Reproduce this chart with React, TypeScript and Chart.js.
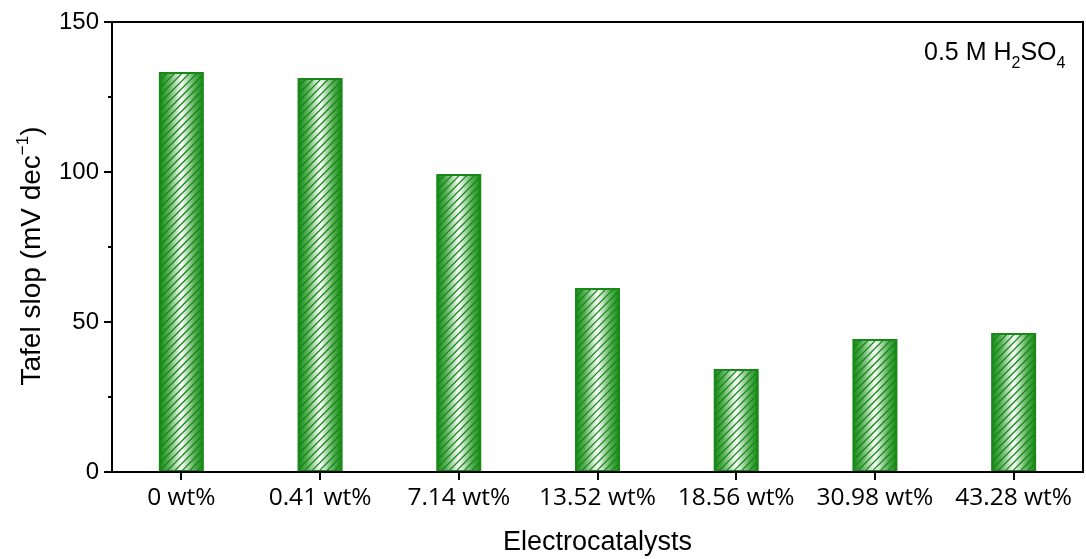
import React, { useEffect, useRef } from "react";
import { Chart, registerables } from "chart.js";

Chart.register(...registerables);

const categories = ["0 wt%", "0.41 wt%", "7.14 wt%", "13.52 wt%", "18.56 wt%", "30.98 wt%", "43.28 wt%"];
const tafelSlopes = [133, 131, 99, 61, 34, 44, 46];
const yMin = 0;
const yMax = 150;
const yMajorStep = 50;
const yMinorTicks = [25, 75, 125];
const yTitleMain = "Tafel slop (mV dec";
const yTitleSup = "\u22121";
const yTitleEnd = ")";
const xTitle = "Electrocatalysts";

const GREEN = "rgb(25,135,25)";
const SANS = "'Liberation Sans', Arial, sans-serif";

const hatchBarsPlugin = {
  id: "hatchBars",
  afterDatasetsDraw(chart: any) {
    const ctx = chart.ctx as CanvasRenderingContext2D;
    const meta = chart.getDatasetMeta(0);
    meta.data.forEach((el: any) => {
      const p = el.getProps(["x", "y", "base", "width"], true);
      const left = p.x - p.width / 2;
      const right = p.x + p.width / 2;
      const top = Math.min(p.y, p.base);
      const bottom = Math.max(p.y, p.base);
      const h = bottom - top;
      ctx.save();
      const g = ctx.createLinearGradient(left, 0, right, 0);
      g.addColorStop(0, "rgb(20,140,20)");
      g.addColorStop(0.2, "rgb(90,175,90)");
      g.addColorStop(0.5, "rgb(255,255,255)");
      g.addColorStop(0.8, "rgb(90,175,90)");
      g.addColorStop(1, "rgb(20,140,20)");
      ctx.fillStyle = g;
      ctx.fillRect(left, top, p.width, h);
      ctx.beginPath();
      ctx.rect(left, top, p.width, h);
      ctx.clip();
      ctx.strokeStyle = "rgb(20,135,20)";
      ctx.lineWidth = 1.2;
      const step = 7.5;
      ctx.beginPath();
      for (let k = top - p.width; k < bottom + p.width; k += step) {
        ctx.moveTo(left, k + p.width);
        ctx.lineTo(right, k);
      }
      ctx.stroke();
      ctx.restore();
      ctx.save();
      ctx.strokeStyle = GREEN;
      ctx.lineWidth = 2;
      ctx.strokeRect(left, top, p.width, h);
      ctx.restore();
    });
  },
};

const decorPlugin = {
  id: "decor",
  afterDraw(chart: any) {
    const ctx = chart.ctx as CanvasRenderingContext2D;
    const a = chart.chartArea;
    const yScale = chart.scales.y;
    ctx.save();
    ctx.strokeStyle = "#000";
    ctx.lineWidth = 2;
    ctx.strokeRect(a.left, a.top, a.right - a.left, a.bottom - a.top);
    ctx.beginPath();
    yMinorTicks.forEach((v) => {
      const py = Math.round(yScale.getPixelForValue(v));
      ctx.moveTo(a.left - 4, py);
      ctx.lineTo(a.left, py);
    });
    ctx.stroke();

    ctx.fillStyle = "#000";
    ctx.font = `27px ${SANS}`;
    ctx.textAlign = "center";
    ctx.textBaseline = "middle";
    ctx.fillText(xTitle, (a.left + a.right) / 2, 543);

    ctx.save();
    const mainFont = `28px ${SANS}`;
    const supFont = `17px ${SANS}`;
    ctx.font = mainFont;
    const w1 = ctx.measureText(yTitleMain).width;
    const w3 = ctx.measureText(yTitleEnd).width;
    ctx.font = supFont;
    const w2 = ctx.measureText(yTitleSup).width;
    const total = w1 + w2 + w3;
    ctx.translate(30, (a.top + a.bottom) / 2 + 9);
    ctx.rotate(-Math.PI / 2);
    ctx.textAlign = "left";
    ctx.textBaseline = "alphabetic";
    let x0 = -total / 2;
    const base = 10;
    ctx.font = mainFont;
    ctx.fillText(yTitleMain, x0, base);
    x0 += w1;
    ctx.font = supFont;
    ctx.fillText(yTitleSup, x0, base - 12);
    x0 += w2;
    ctx.font = mainFont;
    ctx.fillText(yTitleEnd, x0, base);
    ctx.restore();

    const parts: [string, boolean][] = [["0.5 M H", false], ["2", true], ["SO", false], ["4", true]];
    let ax = 924;
    const abase = 60;
    ctx.textAlign = "left";
    ctx.textBaseline = "alphabetic";
    parts.forEach(([t, sub]) => {
      ctx.font = sub ? `16px ${SANS}` : `25px ${SANS}`;
      ctx.fillText(t, ax, sub ? abase + 8 : abase);
      ax += ctx.measureText(t).width;
    });
    ctx.restore();
  },
};

export default function App() {
  const ref = useRef<HTMLCanvasElement | null>(null);
  useEffect(() => {
    if (!ref.current) return;
    const chart = new Chart(ref.current, {
      type: "bar",
      data: {
        labels: categories,
        datasets: [
          {
            data: tafelSlopes,
            backgroundColor: "rgba(0,0,0,0)",
            borderWidth: 0,
            barPercentage: 0.31,
            categoryPercentage: 1,
          },
        ],
      },
      options: {
        animation: false,
        responsive: true,
        maintainAspectRatio: false,
        layout: { padding: { top: 22, right: 3, left: 0, bottom: 0 } },
        plugins: { legend: { display: false }, tooltip: { enabled: false } },
        scales: {
          x: {
            grid: { display: true, drawOnChartArea: false, offset: false, tickLength: 8, color: "#000", lineWidth: 2 },
            border: { display: false },
            ticks: { color: "#000", font: { family: "'Open Sans', sans-serif", size: 24.5 }, padding: 3, maxRotation: 0, autoSkip: false },
            afterFit: (s: any) => { s.height = 87; },
          },
          y: {
            min: yMin,
            max: yMax,
            grid: { display: true, drawOnChartArea: false, tickLength: 8, color: "#000", lineWidth: 2 },
            border: { display: false },
            ticks: { stepSize: yMajorStep, color: "#000", font: { family: SANS, size: 24 }, padding: 5 },
            afterFit: (s: any) => { s.width = 112; },
          },
        },
      },
      plugins: [hatchBarsPlugin, decorPlugin],
    });
    return () => chart.destroy();
  }, []);
  return (
    <div style={{ position: "absolute", left: 0, top: 0, width: 1086, height: 559, background: "#fff" }}>
      <canvas ref={ref} />
    </div>
  );
}
